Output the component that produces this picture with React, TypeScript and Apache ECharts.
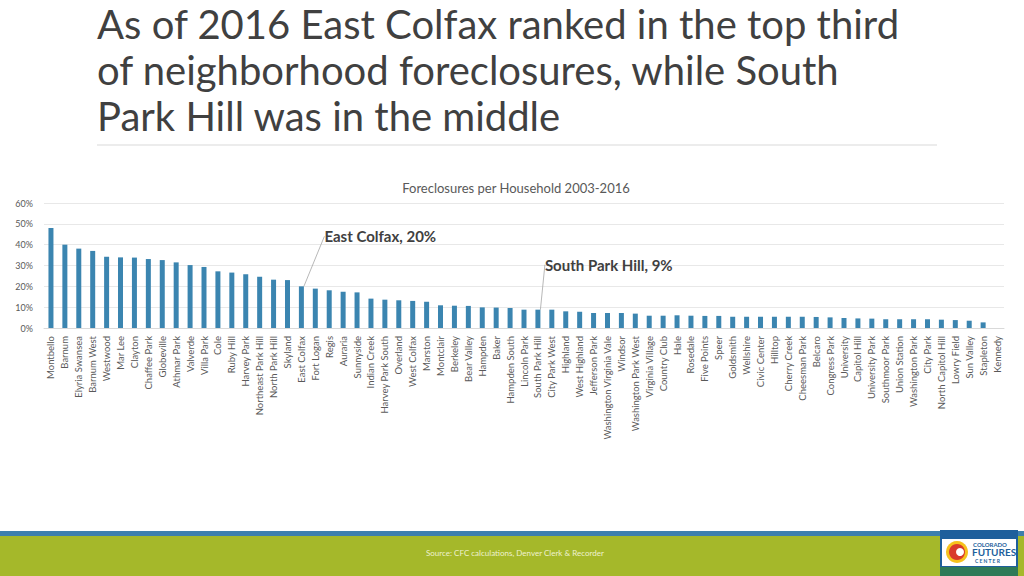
import React, { useEffect, useRef } from "react";
import * as echarts from "echarts";

const titleLines = [
  "As of 2016 East Colfax ranked in the top third",
  "of neighborhood foreclosures, while South",
  "Park Hill was in the middle",
];
const chartTitle = "Foreclosures per Household 2003-2016";
const sourceText = "Source: CFC calculations, Denver Clerk & Recorder";

const neighborhoods = [
  "Montbello", "Barnum", "Elyria Swansea", "Barnum West", "Westwood", "Mar Lee", "Clayton",
  "Chaffee Park", "Globeville", "Athmar Park", "Valverde", "Villa Park", "Cole", "Ruby Hill",
  "Harvey Park", "Northeast Park Hill", "North Park Hill", "Skyland", "East Colfax", "Fort Logan",
  "Regis", "Auraria", "Sunnyside", "Indian Creek", "Harvey Park South", "Overland", "West Colfax",
  "Marston", "Montclair", "Berkeley", "Bear Valley", "Hampden", "Baker", "Hampden South",
  "Lincoln Park", "South Park Hill", "City Park West", "Highland", "West Highland",
  "Jefferson Park", "Washington Virginia Vale", "Windsor", "Washington Park West",
  "Virginia Village", "Country Club", "Hale", "Rosedale", "Five Points", "Speer", "Goldsmith",
  "Wellshire", "Civic Center", "Hilltop", "Cherry Creek", "Cheesman Park", "Belcaro",
  "Congress Park", "University", "Capitol Hill", "University Park", "Southmoor Park",
  "Union Station", "Washington Park", "City Park", "North Capitol Hill", "Lowry Field",
  "Sun Valley", "Stapleton", "Kennedy",
];

const foreclosureRates = [
  48.0, 40.0, 38.1, 37.0, 34.2, 33.9, 33.8,
  33.1, 32.6, 31.5, 30.2, 29.3, 27.2, 26.6,
  25.8, 24.6, 23.2, 23.0, 20.0, 18.9,
  18.1, 17.4, 17.1, 14.1, 13.6, 13.3, 13.0,
  12.6, 10.9, 10.7, 10.6, 9.9, 9.8, 9.6,
  8.8, 8.8, 8.8, 8.0, 7.8,
  7.2, 7.2, 7.2, 6.9,
  5.9, 5.9, 6.1, 5.9, 5.8, 5.8, 5.4,
  5.4, 5.4, 5.4, 5.4, 5.4, 5.3,
  5.1, 4.8, 4.6, 4.5, 4.2,
  4.2, 4.2, 4.2, 4.0, 3.8,
  3.5, 2.7, 0,
];

const yTicks = [0, 10, 20, 30, 40, 50, 60];

const annotations = [
  { name: "East Colfax", text: "East Colfax, 20%", dx: 23, dy: -50 },
  { name: "South Park Hill", text: "South Park Hill, 9%", dx: 7, dy: -45 },
];

export default function App() {
  const ref = useRef<HTMLDivElement>(null);

  useEffect(() => {
    if (!ref.current) return;
    const chart = echarts.init(ref.current, undefined, { renderer: "svg" });
    const font = "Lato, 'Open Sans', sans-serif";

    const data = foreclosureRates.map((v, i) => {
      const ann = annotations.find((a) => a.name === neighborhoods[i]);
      if (!ann) return v;
      return {
        value: v,
        label: {
          show: true,
          position: "top",
          formatter: ann.text,
          color: "#404040",
          fontFamily: font,
          fontWeight: "bold",
          fontSize: 15,
        },
        labelLine: { show: true, lineStyle: { color: "#a6a6a6", width: 0.8 } },
      };
    });

    const graphics: any[] = [];
    titleLines.forEach((t, i) => {
      graphics.push({
        type: "text",
        left: 97,
        top: 4 + i * 46,
        style: { text: t, fill: "#404040", font: `40px ${font}` },
      });
    });
    graphics.push({
      type: "line",
      shape: { x1: 97, y1: 145, x2: 937, y2: 145 },
      style: { stroke: "#d9d9d9", lineWidth: 1 },
    });
    graphics.push({
      type: "rect",
      shape: { x: 0, y: 531, width: 1024, height: 6 },
      style: { fill: "#3d7fad" },
    });
    graphics.push({
      type: "rect",
      shape: { x: 0, y: 536, width: 1024, height: 40 },
      style: { fill: "#a5b82a" },
    });
    graphics.push({
      type: "text",
      left: 426,
      top: 549,
      style: { text: sourceText, fill: "#eef2cf", font: `8px ${font}` },
    });
    // logo
    graphics.push({
      type: "group",
      children: [
        { type: "rect", shape: { x: 940, y: 530, width: 78, height: 46 }, style: { fill: "#1e5f9c" } },
        { type: "rect", shape: { x: 942, y: 539, width: 74, height: 27 }, style: { fill: "#ffffff" } },
        { type: "rect", shape: { x: 940, y: 567, width: 78, height: 9 }, style: { fill: "#2e7a57" } },
        { type: "circle", shape: { cx: 957, cy: 552, r: 11 }, style: { fill: "#f6c21c" } },
        { type: "circle", shape: { cx: 957, cy: 552, r: 8 }, style: { fill: "#d93a2b" } },
        { type: "circle", shape: { cx: 960, cy: 552, r: 4 }, style: { fill: "#ffffff" } },
        { type: "text", left: 973, top: 541, style: { text: "COLORADO", fill: "#1e5f9c", font: `bold 6px ${font}` } },
        { type: "text", left: 972, top: 547, style: { text: "FUTURES", fill: "#1e5f9c", font: `bold 10px ${font}` } },
        { type: "text", left: 975, top: 558, style: { text: "C E N T E R", fill: "#1e5f9c", font: `bold 5px ${font}` } },
      ],
    });

    chart.setOption({
      animation: false,
      backgroundColor: "#ffffff",
      title: {
        text: chartTitle,
        left: 511,
        textAlign: "center",
        top: 176,
        textStyle: { color: "#595959", fontFamily: font, fontSize: 13, fontWeight: "normal" },
      },
      graphic: graphics,
      grid: { left: 44, right: 20, top: 203, bottom: 248, containLabel: false },
      xAxis: {
        type: "category",
        data: neighborhoods,
        axisLine: { lineStyle: { color: "#d9d9d9" } },
        axisTick: { show: false },
        axisLabel: {
          interval: 0,
          rotate: 90,
          color: "#595959",
          fontFamily: font,
          fontSize: 9.5,
          margin: 8,
        },
      },
      yAxis: {
        type: "value",
        min: yTicks[0],
        max: yTicks[yTicks.length - 1],
        interval: 10,
        axisLine: { show: false },
        axisTick: { show: false },
        splitLine: { lineStyle: { color: "#e8e8e8" } },
        axisLabel: {
          formatter: "{value}%",
          color: "#595959",
          fontFamily: font,
          fontSize: 9,
          margin: 11,
        },
      },
      series: [
        {
          type: "bar",
          data,
          barWidth: 5,
          itemStyle: { color: "#3b85b0" },
          labelLayout: (params: any) => {
            const ann = annotations.find((a) => a.name === neighborhoods[params.dataIndex]);
            if (!ann) return {};
            const r = params.rect;
            return {
              x: r.x + r.width / 2 + ann.dx,
              y: r.y + ann.dy,
              align: "left",
              verticalAlign: "middle",
            };
          },
        },
      ],
    });

    return () => chart.dispose();
  }, []);

  return (
    <div
      ref={ref}
      style={{ position: "fixed", left: 0, top: 0, width: 1024, height: 576 }}
    />
  );
}
